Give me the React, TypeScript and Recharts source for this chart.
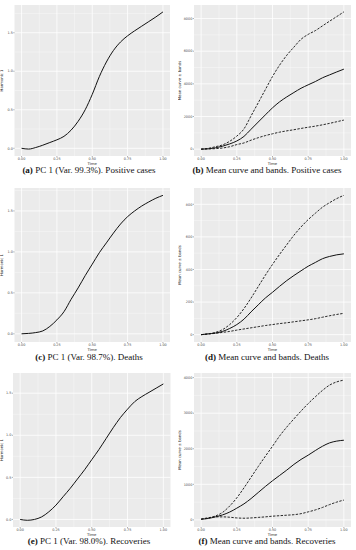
import React from 'react';
import { LineChart, Line, XAxis, YAxis, CartesianGrid, Label } from 'recharts';

const TIME = [0, 0.05, 0.1, 0.15, 0.2, 0.25, 0.3, 0.35, 0.4, 0.45, 0.5, 0.55, 0.6, 0.65, 0.7, 0.75, 0.8, 0.85, 0.9, 0.95, 1];
const X_TICKS = [0, 0.25, 0.5, 0.75, 1];
const X_MINOR = [0.125, 0.375, 0.625, 0.875];

// (a) PC 1 positive cases
const PC_POS = [0, -0.01, 0.01, 0.04, 0.075, 0.11, 0.155, 0.235, 0.35, 0.5, 0.7, 0.93, 1.12, 1.27, 1.38, 1.46, 1.525, 1.585, 1.645, 1.705, 1.77];
// (b) mean and bands positive cases
const POS_MEAN = [0, 20, 80, 180, 320, 500, 780, 1220, 1660, 2100, 2530, 2900, 3200, 3470, 3730, 3940, 4140, 4370, 4550, 4730, 4900];
const POS_UPPER = [0, 50, 150, 260, 480, 800, 1240, 2040, 2840, 3650, 4450, 5150, 5750, 6250, 6730, 7030, 7260, 7550, 7840, 8120, 8410];
const POS_LOWER = [0, 10, 30, 70, 150, 280, 380, 550, 700, 830, 940, 1040, 1120, 1190, 1270, 1340, 1410, 1490, 1580, 1680, 1780];
// (c) PC 1 deaths
const PC_DEATH = [0, 0.005, 0.015, 0.035, 0.09, 0.17, 0.27, 0.42, 0.56, 0.71, 0.85, 0.99, 1.11, 1.23, 1.34, 1.43, 1.5, 1.56, 1.61, 1.655, 1.69];
// (d) mean and bands deaths
const DEATH_MEAN = [0, 5, 10, 20, 38, 62, 95, 140, 183, 225, 260, 297, 332, 363, 392, 420, 443, 466, 480, 490, 496];
const DEATH_UPPER = [0, 5, 14, 31, 62, 105, 160, 225, 295, 365, 431, 493, 552, 610, 661, 706, 745, 782, 810, 835, 855];
const DEATH_LOWER = [0, 4, 8, 14, 20, 28, 35, 42, 49, 56, 62, 68, 73, 79, 85, 91, 98, 107, 116, 124, 131];
// (e) PC 1 recoveries
const PC_REC = [0, -0.01, 0, 0.03, 0.09, 0.17, 0.27, 0.37, 0.48, 0.59, 0.71, 0.83, 0.96, 1.09, 1.21, 1.31, 1.4, 1.46, 1.51, 1.56, 1.61];
// (f) mean and bands recoveries
const REC_MEAN = [20, 40, 85, 140, 220, 330, 450, 600, 770, 940, 1100, 1250, 1400, 1560, 1700, 1820, 1950, 2070, 2165, 2215, 2240];
const REC_UPPER = [20, 50, 110, 210, 390, 620, 900, 1200, 1500, 1790, 2070, 2360, 2610, 2840, 3060, 3270, 3460, 3640, 3790, 3880, 3930];
const REC_LOWER = [20, 60, 85, 85, 75, 55, 47, 55, 70, 85, 104, 118, 132, 146, 175, 225, 280, 350, 430, 500, 557];

const makeData = (series: Record<string, number[]>) =>
  TIME.map((t, i) => {
    const row: Record<string, number> = { t };
    Object.keys(series).forEach((k) => (row[k] = series[k][i]));
    return row;
  });

type PanelProps = {
  colX: number;
  rowY: number;
  plot: { x: number; y: number; w: number; h: number };
  data: Record<string, number>[];
  lines: { key: string; dashed: boolean }[];
  yDomain: [number, number];
  yTicks: number[];
  yMinor: number[];
  yFmt: (v: number) => string;
  yLabel: string;
  tag: string;
  caption: string;
  captionY: number;
};

const TICK_STYLE = { fontSize: 3.4, fill: '#4d4d4d', fontFamily: 'DejaVu Sans' };

function Panel(p: PanelProps) {
  const chartW = 178;
  const chartH = p.plot.y + p.plot.h - p.rowY + 12;
  const yAxisW = p.plot.x - p.colX;
  return (
    <>
      <div style={{ position: 'absolute', left: p.colX, top: p.rowY }}>
        <LineChart
          width={chartW}
          height={chartH}
          data={p.data}
          margin={{ top: p.plot.y - p.rowY, right: p.colX + chartW - (p.plot.x + p.plot.w), left: 0, bottom: 0 }}
        >
          <CartesianGrid fill="#EBEBEB" stroke="#ffffff" strokeWidth={0.35} horizontalValues={p.yMinor} verticalValues={X_MINOR} />
          <CartesianGrid fill="none" stroke="#ffffff" strokeWidth={0.8} horizontalValues={p.yTicks} verticalValues={X_TICKS} />
          <XAxis
            type="number"
            dataKey="t"
            domain={[-0.05, 1.05]}
            ticks={X_TICKS}
            tickFormatter={(v: number) => v.toFixed(2)}
            height={12}
            axisLine={false}
            tickLine={{ stroke: '#333', strokeWidth: 0.4 }}
            tickSize={1.2}
            tickMargin={0.5}
            tick={TICK_STYLE}
            interval={0}
            allowDataOverflow
          >
            <Label value="Time" position="insideBottom" offset={3} style={{ fontSize: 3.8, fill: '#222', fontFamily: 'DejaVu Sans' }} />
          </XAxis>
          <YAxis
            type="number"
            domain={p.yDomain}
            ticks={p.yTicks}
            tickFormatter={p.yFmt}
            width={yAxisW}
            axisLine={false}
            tickLine={{ stroke: '#333', strokeWidth: 0.4 }}
            tickSize={1.2}
            tickMargin={0.5}
            tick={TICK_STYLE}
            interval={0}
            allowDataOverflow
          >
            <Label value={p.yLabel} angle={-90} position="insideLeft" offset={2} style={{ fontSize: 3.8, fill: '#222', fontFamily: 'DejaVu Sans', textAnchor: 'middle' }} />
          </YAxis>
          {p.lines.map((l) => (
            <Line
              key={l.key}
              dataKey={l.key}
              type="monotone"
              stroke="#111"
              strokeWidth={l.dashed ? 0.9 : 1.0}
              strokeDasharray={l.dashed ? '2.4 1.4' : undefined}
              dot={false}
              isAnimationActive={false}
            />
          ))}
        </LineChart>
      </div>
      <div
        style={{
          position: 'absolute',
          left: p.colX,
          width: chartW,
          top: p.captionY - 6,
          height: 12,
          lineHeight: '12px',
          textAlign: 'center',
          whiteSpace: 'nowrap',
          fontFamily: '"Liberation Serif", serif',
          fontSize: 9,
          color: '#111',
        }}
      >
        <b>{p.tag}</b> {p.caption}
      </div>
    </>
  );
}

const f1 = (v: number) => v.toFixed(1);
const f0 = (v: number) => String(v);

const PC_LINES = [{ key: 'pc', dashed: false }];
const BAND_LINES = [
  { key: 'upper', dashed: true },
  { key: 'lower', dashed: true },
  { key: 'mean', dashed: false },
];

export default function App() {
  return (
    <div style={{ position: 'absolute', left: 0, top: 0, width: 356, height: 550, background: '#fff', overflow: 'hidden' }}>
      <Panel colX={0} rowY={0} plot={{ x: 14.5, y: 5, w: 155.5, h: 151 }} data={makeData({ pc: PC_POS })} lines={PC_LINES}
        yDomain={[-0.1, 1.86]} yTicks={[0, 0.5, 1, 1.5]} yMinor={[0.25, 0.75, 1.25, 1.75]} yFmt={f1} yLabel="Harmonic 1"
        tag="(a)" caption="PC 1 (Var. 99.3%). Positive cases" captionY={170} />
      <Panel colX={178} rowY={0} plot={{ x: 194, y: 5, w: 157, h: 151 }} data={makeData({ mean: POS_MEAN, upper: POS_UPPER, lower: POS_LOWER })} lines={BAND_LINES}
        yDomain={[-420, 8830]} yTicks={[0, 2000, 4000, 6000, 8000]} yMinor={[1000, 3000, 5000, 7000]} yFmt={f0} yLabel="Mean curve ± bands"
        tag="(b)" caption="Mean curve and bands. Positive cases" captionY={170} />
      <Panel colX={0} rowY={180} plot={{ x: 14.5, y: 188, w: 155.5, h: 154 }} data={makeData({ pc: PC_DEATH })} lines={PC_LINES}
        yDomain={[-0.1, 1.78]} yTicks={[0, 0.5, 1, 1.5]} yMinor={[0.25, 0.75, 1.25, 1.75]} yFmt={f1} yLabel="Harmonic 1"
        tag="(c)" caption="PC 1 (Var. 98.7%). Deaths" captionY={357} />
      <Panel colX={178} rowY={180} plot={{ x: 194, y: 188, w: 157, h: 154 }} data={makeData({ mean: DEATH_MEAN, upper: DEATH_UPPER, lower: DEATH_LOWER })} lines={BAND_LINES}
        yDomain={[-45, 900]} yTicks={[0, 200, 400, 600, 800]} yMinor={[100, 300, 500, 700]} yFmt={f0} yLabel="Mean curve ± bands"
        tag="(d)" caption="Mean curve and bands. Deaths" captionY={357} />
      <Panel colX={0} rowY={365} plot={{ x: 13, y: 373, w: 157.5, h: 154 }} data={makeData({ pc: PC_REC })} lines={PC_LINES}
        yDomain={[-0.09, 1.74]} yTicks={[0, 0.5, 1, 1.5]} yMinor={[0.25, 0.75, 1.25]} yFmt={f1} yLabel="Harmonic 1"
        tag="(e)" caption="PC 1 (Var. 98.0%). Recoveries" captionY={541} />
      <Panel colX={178} rowY={365} plot={{ x: 194, y: 373, w: 157, h: 154 }} data={makeData({ mean: REC_MEAN, upper: REC_UPPER, lower: REC_LOWER })} lines={BAND_LINES}
        yDomain={[-200, 4130]} yTicks={[0, 1000, 2000, 3000, 4000]} yMinor={[500, 1500, 2500, 3500]} yFmt={f0} yLabel="Mean curve ± bands"
        tag="(f)" caption="Mean curve and bands. Recoveries" captionY={541} />
    </div>
  );
}
